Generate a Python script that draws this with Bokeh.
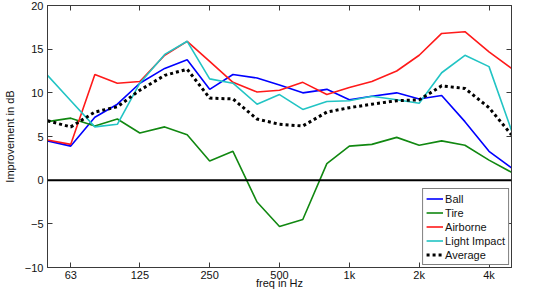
from bokeh.plotting import figure
from bokeh.models import Range1d, FixedTicker, LinearAxis, LogAxis, Span
from bokeh.embed import file_html
from bokeh.resources import INLINE

# third-octave band centre frequencies (Hz)
freq = [50, 63, 80, 100, 125, 160, 200, 250, 315, 400, 500,
        630, 800, 1000, 1250, 1600, 2000, 2500, 3150, 4000, 5000]

# improvement in dB per source type
ball = [4.5, 3.9, 7.2, 8.7, 11.1, 12.8, 13.8, 10.4, 12.1, 11.7, 10.9,
        10.0, 10.4, 9.2, 9.6, 10.0, 9.3, 9.7, 6.7, 3.3, 1.4]
tire = [6.7, 7.1, 6.2, 7.0, 5.4, 6.1, 5.2, 2.2, 3.3, -2.5, -5.3,
        -4.5, 1.9, 3.9, 4.1, 4.9, 4.0, 4.5, 4.0, 2.3, 0.9]
airborne = [4.6, 4.1, 12.1, 11.1, 11.3, 14.3, 15.9, 13.6, 11.2, 10.1, 10.3,
            11.2, 9.8, 10.6, 11.3, 12.5, 14.3, 16.8, 17.0, 14.7, 12.8]
light_impact = [12.0, 9.1, 6.1, 6.4, 11.1, 14.4, 15.9, 11.6, 11.1, 8.7, 9.8,
                8.1, 9.0, 9.1, 9.6, 9.2, 8.8, 12.3, 14.3, 13.0, 5.7]
average = [6.8, 6.1, 7.8, 8.4, 10.3, 12.0, 12.7, 9.4, 9.3, 7.0, 6.4,
           6.2, 7.8, 8.3, 8.7, 9.1, 9.2, 10.8, 10.5, 8.3, 5.2]

x_ticks = [63, 125, 250, 500, 1000, 2000, 4000]
x_tick_labels = ["63", "125", "250", "500", "1k", "2k", "4k"]
y_ticks = [-10, -5, 0, 5, 10, 15, 20]

FONT = "Liberation Sans"
AXIS_COLOR = "#3a3a3a"
TEXT_COLOR = "#111111"

p = figure(width=551, height=291, x_axis_type="log",
           x_range=Range1d(50, 5000), y_range=Range1d(-10, 20),
           output_backend="svg", toolbar_location=None,
           min_border_left=38, min_border_right=40,
           min_border_top=5, min_border_bottom=23)
p.grid.visible = False
p.outline_line_color = AXIS_COLOR
p.outline_line_width = 1
p.background_fill_color = "white"
p.border_fill_color = "white"


def style_axis(ax, show_labels):
    ax.major_tick_in = 5
    ax.major_tick_out = 0
    ax.minor_tick_line_color = None
    ax.axis_line_color = AXIS_COLOR
    ax.major_tick_line_color = AXIS_COLOR
    ax.major_label_text_font = FONT
    if show_labels:
        ax.major_label_text_font_size = "11px"
        ax.major_label_text_color = TEXT_COLOR
    else:
        # tick marks only, no labels drawn
        ax.major_label_text_font_size = "0px"
        ax.major_label_text_color = None
        ax.major_label_standoff = 0


def style_title(ax, text, standoff):
    ax.axis_label = text
    ax.axis_label_standoff = standoff
    ax.axis_label_text_font = FONT
    ax.axis_label_text_font_size = "11px"
    ax.axis_label_text_font_style = "normal"
    ax.axis_label_text_color = TEXT_COLOR


# bottom / left axes with labels
xa = p.xaxis[0]
xa.ticker = FixedTicker(ticks=x_ticks)
xa.major_label_overrides = {t: s for t, s in zip(x_ticks, x_tick_labels)}
style_axis(xa, True)
xa.major_label_standoff = 1
style_title(xa, "freq in Hz", -7)

ya = p.yaxis[0]
ya.ticker = FixedTicker(ticks=y_ticks)
style_axis(ya, True)
ya.major_label_standoff = 4
style_title(ya, "Improvement in dB", 6)

# mirrored top / right axes: ticks only
top = LogAxis(ticker=FixedTicker(ticks=x_ticks))
style_axis(top, False)
p.add_layout(top, "above")
right = LinearAxis(ticker=FixedTicker(ticks=y_ticks))
style_axis(right, False)
p.add_layout(right, "right")

# zero reference line
p.add_layout(Span(location=0, dimension="width", line_color="black",
                  line_width=2))

p.line(freq, ball, line_color="#0000ff", line_width=1.6, legend_label="Ball")
p.line(freq, tire, line_color="#118811", line_width=1.6, legend_label="Tire")
p.line(freq, airborne, line_color="#ff1a1a", line_width=1.6,
       legend_label="Airborne")
p.line(freq, light_impact, line_color="#22c4c4", line_width=1.6,
       legend_label="Light Impact")
p.line(freq, average, line_color="black", line_width=3, line_dash="3 3",
       legend_label="Average")

lg = p.legend[0]
lg.location = "bottom_right"
lg.margin = 2
lg.padding = 3
lg.spacing = 1
lg.label_height = 13
lg.glyph_height = 13
lg.glyph_width = 17
lg.label_standoff = 2
lg.label_text_font = FONT
lg.label_text_font_size = "11px"
lg.label_text_color = TEXT_COLOR
lg.border_line_color = "black"
lg.border_line_width = 1
lg.background_fill_color = "white"
lg.background_fill_alpha = 1

open("out.html", "w").write(file_html(p, INLINE))
